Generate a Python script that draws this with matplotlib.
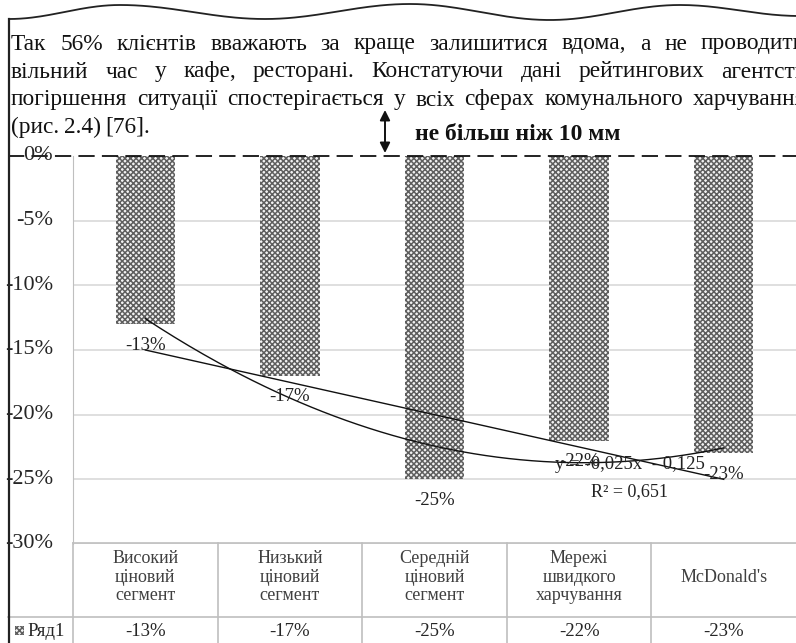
import matplotlib.pyplot as plt
import numpy as np
from matplotlib.patches import Rectangle
from matplotlib.transforms import blended_transform_factory

# chart data
categories = ["Високий\nціновий\nсегмент", "Низький\nціновий\nсегмент",
              "Середній\nціновий\nсегмент", "Мережі\nшвидкого\nхарчування",
              "McDonald's"]
values = [-0.13, -0.17, -0.25, -0.22, -0.23]
series_name = "Ряд1"
yticks = [0, -0.05, -0.10, -0.15, -0.20, -0.25, -0.30]

# surrounding document text
body_lines = [
    "Так 56% клієнтів вважають за краще залишитися вдома, а не проводити",
    "вільний час у кафе, ресторані. Констатуючи дані рейтингових агентств",
    "погіршення ситуації спостерігається у всіх сферах комунального харчування",
    "(рис. 2.4) [76].",
]
note = "не більш ніж 10 мм"

SERIF = ["Liberation Serif", "DejaVu Serif"]
plt.rcParams["font.family"] = SERIF
plt.rcParams["hatch.linewidth"] = 1.1

W, H = 796, 643
fig = plt.figure(figsize=(W / 100, H / 100), dpi=100)

# chart axes placed in pixel terms
ax_l, ax_r, ax_t, ax_b = 73, 796, 156, 544
ax = fig.add_axes([ax_l / W, 1 - ax_b / H, (ax_r - ax_l) / W, (ax_b - ax_t) / H])
doc = fig.add_axes([0, 0, 1, 1], zorder=5)
doc.set_xlim(0, W)
doc.set_ylim(H, 0)
doc.axis("off")
doc.patch.set_alpha(0)

x = np.arange(1, len(values) + 1)
ax.bar(x, values, width=0.41, facecolor="#f2f2f2", edgecolor="#5e5e5e",
       hatch="xxxxxx", linewidth=0, zorder=2)
ax.set_xlim(0.5, len(values) + 0.5)
ax.set_ylim(-0.30, 0)
ax.set_yticks(yticks[1:])
ax.set_yticklabels([])
ax.set_xticks([])
ax.grid(axis="y", color="#d9d9d9", lw=1.2, zorder=0)
for s in ["top", "right", "bottom"]:
    ax.spines[s].set_visible(False)
ax.spines["left"].set_color("#bfbfbf")
ax.tick_params(length=0)

# data labels under bar ends
for xi, v in zip(x, values):
    ax.annotate(f"{v * 100:.0f}%", (xi, v), xytext=(0, -21), textcoords="offset pixels",
                ha="center", va="center", fontsize=13.5, color="#222222", zorder=4)

# trendlines
lin = np.polyfit(x, values, 1)
quad = np.polyfit(x, values, 2)
xs = np.linspace(1, len(values), 200)
ax.plot(x[[0, -1]], np.polyval(lin, x[[0, -1]]), color="#111111", lw=1.0, zorder=3)
ax.plot(xs, np.polyval(quad, xs), color="#111111", lw=1.0, zorder=3)
pred = np.polyval(lin, x)
r2 = 1 - np.sum((np.array(values) - pred) ** 2) / np.sum((np.array(values) - np.mean(values)) ** 2)
eq = f"y = {lin[0]:.3f}x  - {abs(lin[1]):.3f}".replace(".", ",")
ax.text(4.35, -0.2385, eq, ha="center", va="center", fontsize=13.5, color="#222222", zorder=4)
ax.text(4.35, -0.2595, f"R² = {r2:.3f}".replace(".", ","), ha="center", va="center",
        fontsize=13, color="#222222", zorder=4)

# y tick labels in pixel space
for t in yticks:
    ypx = ax_t + (ax_b - ax_t) * (t / -0.30)
    doc.text(53, ypx, f"{t * 100:.0f}%", ha="right", va="center", fontsize=16, color="#262626")

# dashed zero line across the page
doc.plot([8, W], [ax_t, ax_t], color="#111111", lw=1.3, ls=(0, (9, 4)))

# data table below the chart
tbl_top, tbl_mid = 543, 617
bt = blended_transform_factory(ax.transData, doc.transData)
doc.plot([ax_l, W], [tbl_top, tbl_top], color="#bfbfbf", lw=1.2)
doc.plot([8, W], [tbl_mid, tbl_mid], color="#bfbfbf", lw=1.2)
doc.plot([ax_l, ax_l], [tbl_top, H], color="#bfbfbf", lw=1.2)
for b in np.arange(1.5, len(values) + 0.5, 1):
    doc.plot([b, b], [tbl_top, H], color="#bfbfbf", lw=1.2, transform=bt)
for xi, c, v in zip(x, categories, values):
    doc.text(xi, 577, c, transform=bt, ha="center", va="center", fontsize=13,
             color="#404040", linespacing=1.13)
    doc.text(xi, 631, f"{v * 100:.0f}%", transform=bt, ha="center", va="center",
             fontsize=13.5, color="#262626")
doc.add_patch(Rectangle((15, 626), 9, 9, facecolor="#f2f2f2", edgecolor="#5e5e5e",
                        hatch="xxxxxx", lw=0))
doc.text(27, 631, series_name, ha="left", va="center", fontsize=13.5, color="#262626")

# page frame: torn top edge and left border
ext = [(9, 19), (120, 5), (265, 19), (410, 4), (550, 20), (680, 5), (800, 16)]
wx, wy = [], []
for (x0, y0), (x1, y1) in zip(ext[:-1], ext[1:]):
    s = np.linspace(0, 1, 40)
    wx.extend(x0 + (x1 - x0) * s)
    wy.extend(y0 + (y1 - y0) * (1 - np.cos(np.pi * s)) / 2)
doc.plot(wx, wy, color="#222222", lw=1.3)
doc.plot([8.5, 8.5], [19, H], color="#222222", lw=1.6)

# justified body text
body_y = [44, 72, 100, 127]
fig.canvas.draw()
rend = fig.canvas.get_renderer()
for i, (line, yy) in enumerate(zip(body_lines, body_y)):
    words = line.split(" ")
    items = [doc.text(0, yy, w, ha="left", va="center", fontsize=16.8, color="#111111")
             for w in words]
    widths = [t.get_window_extent(rend).width for t in items]
    if i < 3:
        gap = max(4.0, (806 - 11 - sum(widths)) / (len(words) - 1))
    else:
        gap = 4.5
    xpos = 11
    for t, wd in zip(items, widths):
        t.set_x(xpos)
        xpos += wd + gap

# spacing note with arrow
doc.annotate("", xy=(385, 110), xytext=(385, 153),
             arrowprops=dict(arrowstyle="<|-|>", color="#111111", lw=1.4,
                             mutation_scale=15, shrinkA=0, shrinkB=0))
doc.text(415, 135, note, ha="left", va="center", fontsize=17, fontweight="bold",
         color="#111111")

fig.savefig("out.png", dpi=100)
